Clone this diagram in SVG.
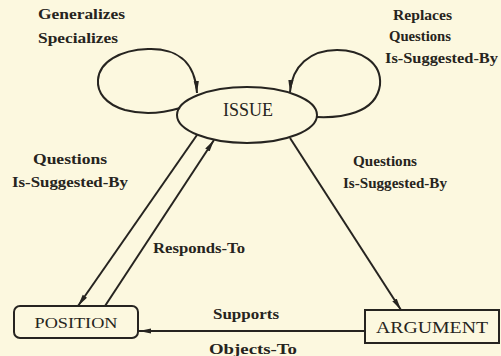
<svg xmlns="http://www.w3.org/2000/svg" width="501" height="356" viewBox="0 0 501 356">
  <defs>
    <marker id="arrow" viewBox="0 0 12 6" refX="12" refY="3" markerWidth="12" markerHeight="6" markerUnits="userSpaceOnUse" orient="auto">
      <path d="M0,0.4 L12,3 L0,5.6 z" fill="#262420"/>
    </marker>
    <style>
      .edge { fill: none; stroke: #262420; stroke-width: 2; }
      .shape { fill: none; stroke: #262420; stroke-width: 2; }
      .node-label { font-family: "Liberation Serif", "Times New Roman", serif; fill: #262420; text-anchor: middle; dominant-baseline: central; }
      .edge-label { font-family: "Liberation Serif", "Times New Roman", serif; font-weight: bold; font-size: 14px; fill: #262420; }
    </style>
  </defs>

  <rect x="0" y="0" width="501" height="356" fill="#fcf8df"/>

  <!-- connectors -->
  <g id="connectors">
    <!-- self loop: generalizes / specializes -->
    <path class="edge" d="M180,108 C160,114 140,114 125,110 C105,104 97,92 98,80 C99,62 120,50 148,49 C175,48 195,60 197,93" marker-end="url(#arrow)"/>
    <!-- self loop: replaces / questions / is-suggested-by -->
    <path class="edge" d="M317,117 C340,118 376,114 380,85 C382,62 360,50 337,50 C310,50 292,66 290,92" marker-end="url(#arrow)"/>
    <!-- issue to position -->
    <path class="edge" d="M197,135 L78,306" marker-end="url(#arrow)"/>
    <!-- position responds to issue -->
    <path class="edge" d="M105,306 L214,140" marker-end="url(#arrow)"/>
    <!-- issue to argument -->
    <path class="edge" d="M290,138 L401,310" marker-end="url(#arrow)"/>
    <!-- argument supports / objects to position -->
    <path class="edge" d="M365,331 L139,331" marker-end="url(#arrow)"/>

    <text class="edge-label" x="38" y="19" textLength="87" lengthAdjust="spacingAndGlyphs">Generalizes</text>
    <text class="edge-label" x="38" y="43" textLength="80" lengthAdjust="spacingAndGlyphs">Specializes</text>

    <text class="edge-label" x="393" y="20" textLength="59" lengthAdjust="spacingAndGlyphs">Replaces</text>
    <text class="edge-label" x="389" y="41" textLength="62" lengthAdjust="spacingAndGlyphs">Questions</text>
    <text class="edge-label" x="385" y="63" textLength="113" lengthAdjust="spacingAndGlyphs">Is-Suggested-By</text>

    <text class="edge-label" x="33" y="164" textLength="74" lengthAdjust="spacingAndGlyphs">Questions</text>
    <text class="edge-label" x="12" y="187" textLength="116" lengthAdjust="spacingAndGlyphs">Is-Suggested-By</text>

    <text class="edge-label" x="353" y="166" textLength="64" lengthAdjust="spacingAndGlyphs">Questions</text>
    <text class="edge-label" x="343" y="188" textLength="104" lengthAdjust="spacingAndGlyphs">Is-Suggested-By</text>

    <text class="edge-label" x="153" y="253" textLength="92" lengthAdjust="spacingAndGlyphs">Responds-To</text>

    <text class="edge-label" x="213" y="319" textLength="66" lengthAdjust="spacingAndGlyphs">Supports</text>
    <text class="edge-label" x="209" y="354" textLength="88" lengthAdjust="spacingAndGlyphs">Objects-To</text>
  </g>

  <!-- nodes -->
  <g id="issue">
    <ellipse class="shape" cx="247" cy="115" rx="70" ry="28"/>
    <text class="node-label" x="248" y="110" font-size="18" textLength="50" lengthAdjust="spacingAndGlyphs">ISSUE</text>
  </g>

  <g id="position">
    <rect class="shape" x="14" y="306" width="124" height="32" rx="6" ry="6"/>
    <text class="node-label" x="76" y="323" font-size="15" textLength="83" lengthAdjust="spacingAndGlyphs">POSITION</text>
  </g>

  <g id="argument">
    <rect class="shape" x="365" y="310" width="134" height="33"/>
    <text class="node-label" x="432" y="327" font-size="17" textLength="112" lengthAdjust="spacingAndGlyphs">ARGUMENT</text>
  </g>
</svg>
